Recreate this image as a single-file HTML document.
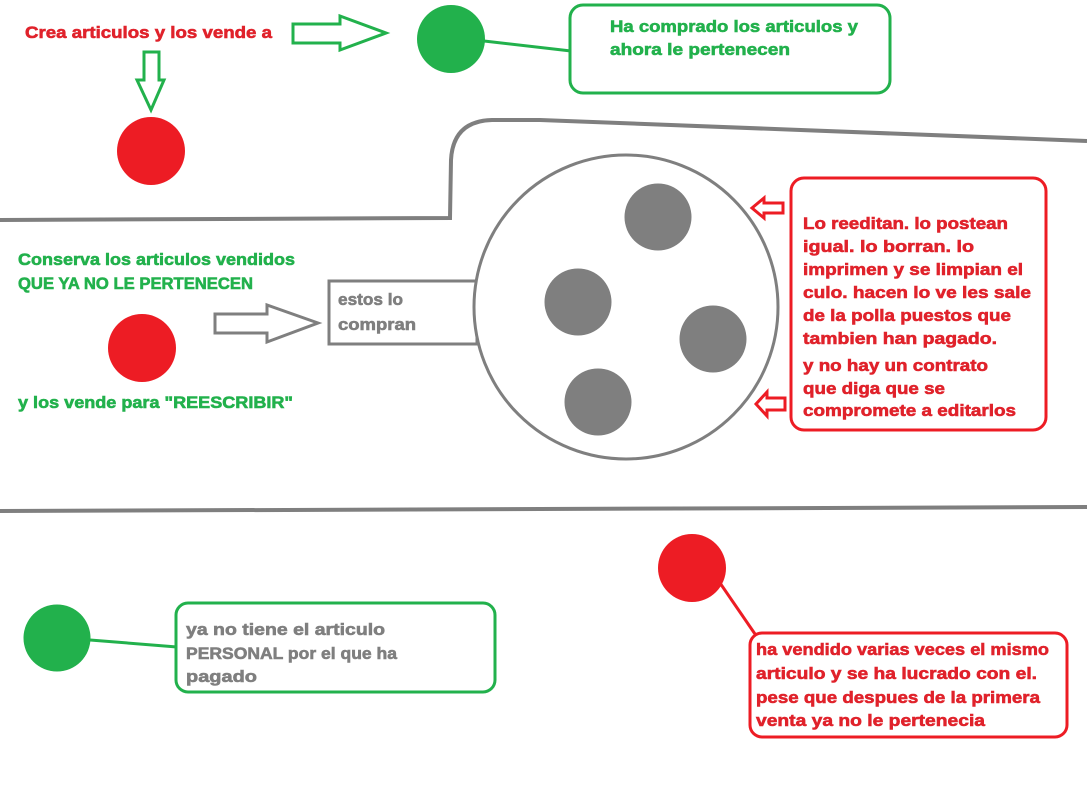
<!DOCTYPE html>
<html><head><meta charset="utf-8"><style>
html,body{margin:0;padding:0;background:#fff;}
svg{display:block;}
text{font-family:"Liberation Sans","DejaVu Sans",sans-serif;font-weight:bold;font-size:17px;stroke-width:0.6px;}
</style></head><body>
<svg width="1087" height="795" viewBox="0 0 1087 795" xmlns="http://www.w3.org/2000/svg">
<rect width="1087" height="795" fill="#fff"/>
<!-- gray boundary -->
<path d="M0,220 L450,218 L451,160 Q453,121 492,120 L540,120 L1087,141" fill="none" stroke="#7f7f7f" stroke-width="4"/>
<path d="M0,511 L1087,507" fill="none" stroke="#7f7f7f" stroke-width="4"/>

<!-- top row -->
<text x="25" y="38" fill="#e0222b" stroke="#e0222b" textLength="247" lengthAdjust="spacingAndGlyphs">Crea articulos y los vende a</text>
<path d="M293,24 L340,24 L340,16 L386,33 L340,50 L340,43 L293,43 Z" fill="none" stroke="#22b14c" stroke-width="3" stroke-linejoin="miter"/>
<path d="M144,52 L159,52 L159,80 L164,80 L151,110 L137,80 L144,80 Z" fill="none" stroke="#22b14c" stroke-width="3"/>
<circle cx="151" cy="151" r="34" fill="#ed1c24"/>
<circle cx="451" cy="39" r="34" fill="#22b14c"/>
<line x1="484" y1="41" x2="571" y2="51" stroke="#22b14c" stroke-width="3"/>
<rect x="570" y="5" width="320" height="88" rx="13" fill="none" stroke="#22b14c" stroke-width="3"/>
<g fill="#22b14c" stroke="#22b14c">
<text x="610" y="32" textLength="248" lengthAdjust="spacingAndGlyphs">Ha comprado los articulos y</text>
<text x="610" y="55" textLength="180" lengthAdjust="spacingAndGlyphs">ahora le pertenecen</text>
</g>

<!-- middle -->
<g fill="#22b14c" stroke="#22b14c">
<text x="18" y="265" textLength="277" lengthAdjust="spacingAndGlyphs">Conserva los articulos vendidos</text>
<text x="18" y="289" textLength="235" lengthAdjust="spacingAndGlyphs">QUE YA NO LE PERTENECEN</text>
<text x="18" y="408" textLength="275" lengthAdjust="spacingAndGlyphs">y los vende para "REESCRIBIR"</text>
</g>
<circle cx="142" cy="348" r="34" fill="#ed1c24"/>
<path d="M215,314 L267,314 L267,305 L318,323 L267,342 L267,333 L215,333 Z" fill="none" stroke="#7f7f7f" stroke-width="3"/>
<rect x="329" y="281" width="148" height="63" fill="none" stroke="#7f7f7f" stroke-width="3"/>
<g fill="#7f7f7f" stroke="#7f7f7f">
<text x="338" y="305" textLength="65" lengthAdjust="spacingAndGlyphs">estos lo</text>
<text x="338" y="330" textLength="78" lengthAdjust="spacingAndGlyphs">compran</text>
</g>

<circle cx="626" cy="307" r="152" fill="#fff" stroke="#7f7f7f" stroke-width="3"/>
<circle cx="658" cy="217" r="33.5" fill="#7f7f7f"/>
<circle cx="578" cy="302" r="33.5" fill="#7f7f7f"/>
<circle cx="713" cy="339" r="33.5" fill="#7f7f7f"/>
<circle cx="598" cy="402" r="33.5" fill="#7f7f7f"/>

<!-- red arrows -->
<path d="M783,203 L764,203 L764,198 L752,208 L764,218 L764,213 L783,213 Z" fill="none" stroke="#ed1c24" stroke-width="3"/>
<path d="M785,398 L767,398 L767,392 L756,404 L767,416 L767,410 L785,410 Z" fill="none" stroke="#ed1c24" stroke-width="3"/>

<rect x="791" y="178" width="255" height="252" rx="13" fill="none" stroke="#ed1c24" stroke-width="3"/>
<g fill="#e0222b" stroke="#e0222b">
<text x="803" y="229" textLength="205" lengthAdjust="spacingAndGlyphs">Lo reeditan. lo postean</text>
<text x="803" y="252" textLength="171" lengthAdjust="spacingAndGlyphs">igual. lo borran. lo</text>
<text x="803" y="275" textLength="220" lengthAdjust="spacingAndGlyphs">imprimen y se limpian el</text>
<text x="803" y="298" textLength="228" lengthAdjust="spacingAndGlyphs">culo. hacen lo ve les sale</text>
<text x="803" y="321" textLength="208" lengthAdjust="spacingAndGlyphs">de la polla puestos que</text>
<text x="803" y="344" textLength="194" lengthAdjust="spacingAndGlyphs">tambien han pagado.</text>
<text x="803" y="371" textLength="185" lengthAdjust="spacingAndGlyphs">y no hay un contrato</text>
<text x="803" y="394" textLength="142" lengthAdjust="spacingAndGlyphs">que diga que se</text>
<text x="803" y="416" textLength="213" lengthAdjust="spacingAndGlyphs">compromete a editarlos</text>
</g>

<!-- bottom -->
<circle cx="57" cy="638" r="33.5" fill="#22b14c"/>
<line x1="90" y1="640" x2="177" y2="647" stroke="#22b14c" stroke-width="3"/>
<rect x="176" y="603" width="319" height="89" rx="12" fill="none" stroke="#22b14c" stroke-width="3"/>
<g fill="#7f7f7f" stroke="#7f7f7f">
<text x="186" y="635" textLength="199" lengthAdjust="spacingAndGlyphs">ya no tiene el articulo</text>
<text x="186" y="659" textLength="211" lengthAdjust="spacingAndGlyphs">PERSONAL por el que ha</text>
<text x="186" y="682" textLength="71" lengthAdjust="spacingAndGlyphs">pagado</text>
</g>

<circle cx="692" cy="568" r="34" fill="#ed1c24"/>
<line x1="720" y1="583" x2="755" y2="634" stroke="#ed1c24" stroke-width="3"/>
<rect x="750" y="633" width="317" height="104" rx="12" fill="none" stroke="#ed1c24" stroke-width="3"/>
<g fill="#e0222b" stroke="#e0222b">
<text x="756" y="655" textLength="293" lengthAdjust="spacingAndGlyphs">ha vendido varias veces el mismo</text>
<text x="756" y="679" textLength="281" lengthAdjust="spacingAndGlyphs">articulo y se ha lucrado con el.</text>
<text x="756" y="703" textLength="284" lengthAdjust="spacingAndGlyphs">pese que despues de la primera</text>
<text x="756" y="726" textLength="229" lengthAdjust="spacingAndGlyphs">venta ya no le pertenecia</text>
</g>
</svg>
</body></html>
